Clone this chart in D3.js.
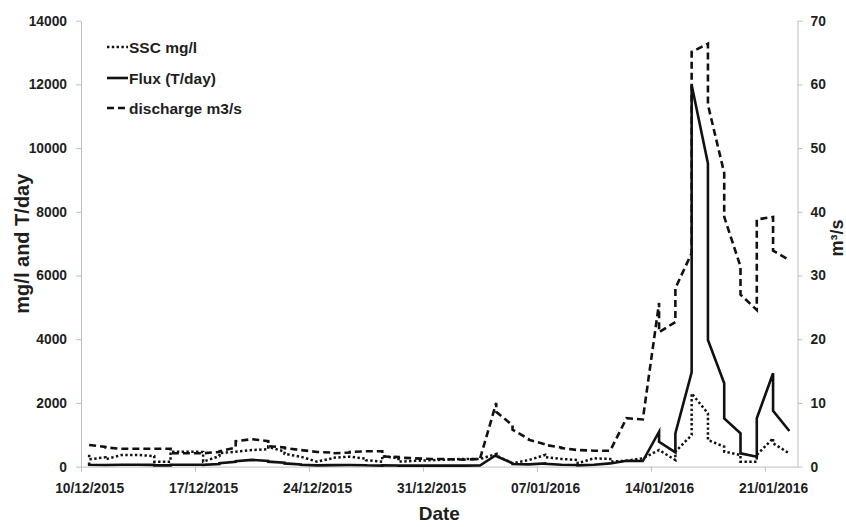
<!DOCTYPE html>
<html>
<head>
<meta charset="utf-8">
<script src="https://cdn.jsdelivr.net/npm/d3@7"></script>
<style>
  html, body { margin: 0; padding: 0; background: #fff; }
  svg text { font-family: "Liberation Sans", Arial, sans-serif; font-weight: bold; fill: #1e1e1e; }
</style>
</head>
<body>
<svg id="chart" width="846" height="527"></svg>
<script>
// ---------- data (two samples per day) ----------
const sampleDates = [
  "10/12/2015","10/12/2015","11/12/2015","11/12/2015","12/12/2015","12/12/2015","13/12/2015","13/12/2015",
  "14/12/2015","14/12/2015","15/12/2015","15/12/2015","16/12/2015","16/12/2015","17/12/2015","17/12/2015",
  "18/12/2015","18/12/2015","19/12/2015","19/12/2015","20/12/2015","20/12/2015","21/12/2015","21/12/2015",
  "22/12/2015","22/12/2015","23/12/2015","23/12/2015","24/12/2015","24/12/2015","25/12/2015","25/12/2015",
  "26/12/2015","26/12/2015","27/12/2015","27/12/2015","28/12/2015","28/12/2015","29/12/2015","29/12/2015",
  "30/12/2015","30/12/2015","31/12/2015","31/12/2015","01/01/2016","01/01/2016","02/01/2016","02/01/2016",
  "03/01/2016","03/01/2016","04/01/2016","04/01/2016","05/01/2016","05/01/2016","06/01/2016","06/01/2016",
  "07/01/2016","07/01/2016","08/01/2016","08/01/2016","09/01/2016","09/01/2016","10/01/2016","10/01/2016",
  "11/01/2016","11/01/2016","12/01/2016","12/01/2016","13/01/2016","13/01/2016","14/01/2016","14/01/2016",
  "15/01/2016","15/01/2016","16/01/2016","16/01/2016","17/01/2016","17/01/2016","18/01/2016","18/01/2016",
  "19/01/2016","19/01/2016","20/01/2016","20/01/2016","21/01/2016","21/01/2016","22/01/2016","22/01/2016"
];
const sscValues = [
  370,230, 290,230, 365,365, 365,365, 330,155, 155,470, 470,470, 460,155,
  330,420, 470,470, 520,520, 545,625, 470,400, 310,310, 155,155, 270,280,
  310,310, 250,200, 155,330, 260,155, 180,180, 200,200, 220,220, 240,240,
  240,240, 395,350, 105,105, 205,205, 365,300, 240,240, 205,105, 260,260,
  240,155, 185,185, 260,260, 520,520, 207,470, 990,2300, 1670,835, 625,470,
  365,155, 155,365, 890,730, 415,415
];
const fluxValues = [
  125,60, 50,50, 60,60, 60,60, 55,40, 40,60, 60,60, 60,55,
  80,110, 150,170, 210,210, 180,155, 120,100, 70,60, 40,40, 45,45,
  50,50, 45,40, 30,40, 35,30, 30,30, 30,30, 30,30, 30,30,
  35,35, 370,330, 105,80, 70,70, 100,90, 60,60, 50,40, 60,60,
  100,100, 185,185, 175,175, 1095,780, 450,1045, 2960,11980, 9520,3975, 2615,1515,
  1045,417, 310,1515, 2930,1755, 1117,1117
];
const dischargeValues = [
  3.4,3.4, 3.1,3.0, 2.8,2.8, 2.8,2.8, 2.8,2.8, 2.8,2.1, 2.1,2.1, 2.1,2.1,
  2.3,2.4, 3.0,4.0, 4.3,4.3, 4.0,3.2, 3.0,2.9, 2.6,2.6, 2.3,2.3, 2.2,2.1,
  2.2,2.3, 2.4,2.4, 2.4,1.6, 1.5,1.4, 1.3,1.3, 1.2,1.2, 1.2,1.15, 1.1,1.1,
  1.2,1.2, 10.0,8.6, 6.5,5.8, 4.3,4.2, 3.5,3.4, 3.0,2.9, 2.6,2.6, 2.5,2.5,
  2.5,2.5, 7.6,7.6, 7.4,7.4, 25.7,21.1, 22.7,28.0, 33.5,65.1, 66.4,56.8, 46.1,39.2,
  31.4,27.0, 24.6,38.8, 39.2,33.9, 32.4,32.4
];
const xTickLabels = ["10/12/2015","17/12/2015","24/12/2015","31/12/2015","07/01/2016","14/01/2016","21/01/2016"];
const leftTicks = [0,2000,4000,6000,8000,10000,12000,14000];
const rightTicks = [0,10,20,30,40,50,60,70];
const seriesNames = ["SSC mg/l","Flux (T/day)","discharge m3/s"];
const axisTitles = { x: "Date", left: "mg/l and T/day", right: "m³/s" };

// ---------- setup ----------
const parse = d3.utcParse("%d/%m/%Y");
const svg = d3.select("#chart");
const plot = { left: 81, right: 797.5, top: 20.7, bottom: 466.6 };
const axisGray = "#bfbfbf";

const x = d3.scaleUtc()
  .domain([parse("10/12/2015"), parse("23/01/2016")])
  .range([plot.left, plot.right]);
const yL = d3.scaleLinear().domain([0, 14000]).range([plot.bottom, plot.top]);
const yR = d3.scaleLinear().domain([0, 70]).range([plot.bottom, plot.top]);
const mid = d => d3.utcHour.offset(d, 12);
const halfDay = x(mid(parse("10/12/2015"))) - x(parse("10/12/2015"));

const dates = sampleDates.map(parse);

// ---------- axes ----------
function styleAxis(g) {
  g.select(".domain").attr("stroke", axisGray).attr("stroke-width", 1);
  g.selectAll(".tick line").attr("stroke", axisGray).attr("stroke-width", 1);
  g.selectAll(".tick text").style("font-size", "13.8px").attr("fill", "#1e1e1e");
}

const gx = svg.append("g")
  .attr("transform", `translate(0,${plot.bottom})`)
  .call(d3.axisBottom(x)
    .tickValues(xTickLabels.map(parse))
    .tickFormat(d3.utcFormat("%d/%m/%Y"))
    .tickSize(5).tickSizeOuter(0).tickPadding(12));
styleAxis(gx);
gx.selectAll(".tick text").attr("dx", halfDay);

const gl = svg.append("g")
  .attr("transform", `translate(${plot.left},0)`)
  .call(d3.axisLeft(yL).tickValues(leftTicks).tickFormat(d3.format("d"))
    .tickSize(5).tickSizeOuter(0).tickPadding(9));
styleAxis(gl);

const gr = svg.append("g")
  .attr("transform", `translate(${plot.right},0)`)
  .call(d3.axisRight(yR).tickValues(rightTicks).tickFormat(d3.format("d"))
    .tickSize(5).tickSizeOuter(0).tickPadding(8));
styleAxis(gr);

// ---------- lines ----------
const styles = [
  { dash: "2.4,2.4", width: 2.5, cap: "butt" },
  { dash: null, width: 2.6, cap: "butt" },
  { dash: "7,4", width: 2.6, cap: "butt" }
];

function drawLine(values, yScale, st) {
  const line = d3.line()
    .x((d, i) => x(mid(dates[i])))
    .y(d => yScale(d));
  const p = svg.append("path")
    .datum(values)
    .attr("d", line)
    .attr("fill", "none")
    .attr("stroke", "#111")
    .attr("stroke-width", st.width)
    .attr("stroke-linejoin", "miter")
    .attr("stroke-linecap", st.cap);
  if (st.dash) p.attr("stroke-dasharray", st.dash);
}
drawLine(sscValues, yL, styles[0]);
drawLine(fluxValues, yL, styles[1]);
drawLine(dischargeValues, yR, styles[2]);

// ---------- legend ----------
const legendY = [47, 78, 108];
seriesNames.forEach((name, i) => {
  const st = styles[i];
  const l = svg.append("line")
    .attr("x1", 107).attr("x2", 128)
    .attr("y1", legendY[i]).attr("y2", legendY[i])
    .attr("stroke", "#111").attr("stroke-width", st.width);
  if (st.dash) l.attr("stroke-dasharray", st.dash);
  svg.append("text")
    .attr("x", 129).attr("y", legendY[i])
    .attr("dy", "0.36em")
    .style("font-size", "15.5px")
    .text(name);
});

// ---------- axis titles ----------
svg.append("text")
  .attr("x", (plot.left + plot.right) / 2).attr("y", 520)
  .attr("text-anchor", "middle")
  .style("font-size", "19px")
  .text(axisTitles.x);

svg.append("text")
  .attr("transform", `translate(29,${(plot.top + plot.bottom) / 2}) rotate(-90)`)
  .attr("text-anchor", "middle")
  .style("font-size", "20px")
  .text(axisTitles.left);

svg.append("text")
  .attr("transform", `translate(843,238) rotate(-90)`)
  .attr("text-anchor", "middle")
  .style("font-size", "18px")
  .text(axisTitles.right);
</script>
</body>
</html>
